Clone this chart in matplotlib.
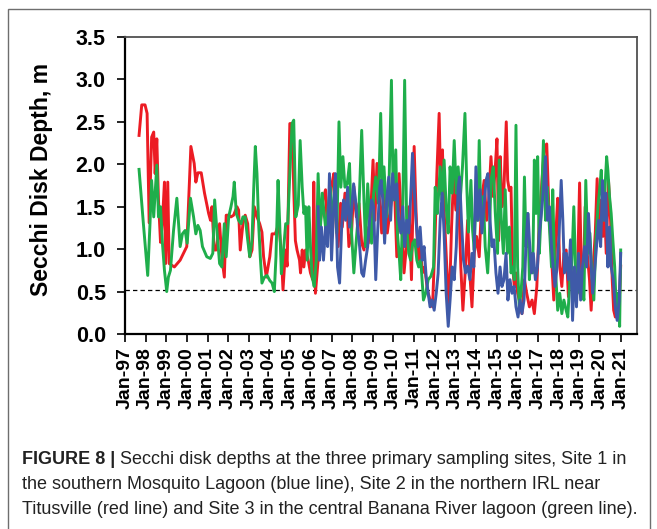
import matplotlib
matplotlib.use("Agg")
import matplotlib.pyplot as plt
from matplotlib import font_manager
from matplotlib.patches import Rectangle

# ---- data: sampling time (decimal year) and Secchi depth (m) ----
site2_t = [1997.68, 1997.81, 1997.97, 1998.07, 1998.17, 1998.29, 1998.39, 1998.46, 1998.54, 1998.62,
           1998.72, 1998.81, 1998.91, 1998.97, 1999.07, 1999.14, 1999.39, 1999.67, 1999.99, 2000.19,
           2000.35, 2000.43, 2000.53, 2000.69, 2000.85, 2001.05, 2001.14, 2001.21, 2001.32, 2001.42,
           2001.58, 2001.69, 2001.81, 2001.90, 2002.02, 2002.13, 2002.26, 2002.42, 2002.50, 2002.58,
           2002.71, 2002.82, 2002.94, 2003.04, 2003.15, 2003.26, 2003.39, 2003.52, 2003.63, 2003.71,
           2003.84, 2004.01, 2004.12, 2004.28, 2004.44, 2004.56, 2004.65, 2004.77, 2004.85, 2004.98,
           2005.09, 2005.17, 2005.25, 2005.33, 2005.45, 2005.50, 2005.58, 2005.66, 2005.74, 2005.87,
           2005.98, 2006.09, 2006.14, 2006.22, 2006.35, 2006.47, 2006.58, 2006.71, 2006.79, 2006.87,
           2007.00, 2007.11, 2007.23, 2007.32, 2007.44, 2007.52, 2007.65, 2007.76, 2007.84, 2007.97,
           2008.08, 2008.20, 2008.33, 2008.46, 2008.57, 2008.68, 2008.78, 2008.89, 2009.01, 2009.10,
           2009.20, 2009.30, 2009.43, 2009.54, 2009.70, 2009.86, 2010.03, 2010.16, 2010.27, 2010.38,
           2010.51, 2010.64, 2010.75, 2010.87, 2011.00, 2011.09, 2011.19, 2011.29, 2011.40, 2011.51,
           2011.64, 2011.77, 2011.89, 2012.00, 2012.10, 2012.21, 2012.29, 2012.37, 2012.45, 2012.58,
           2012.70, 2012.81, 2012.91, 2013.02, 2013.13, 2013.26, 2013.36, 2013.46, 2013.59, 2013.67,
           2013.80, 2013.91, 2014.02, 2014.15, 2014.28, 2014.39, 2014.51, 2014.61, 2014.72, 2014.83,
           2014.93, 2015.01, 2015.09, 2015.17, 2015.25, 2015.35, 2015.46, 2015.53, 2015.61, 2015.69,
           2015.77, 2015.85, 2015.93, 2016.01, 2016.09, 2016.22, 2016.34, 2016.45, 2016.58, 2016.71,
           2016.82, 2016.94, 2017.06, 2017.19, 2017.31, 2017.42, 2017.52, 2017.63, 2017.76, 2017.87,
           2017.95, 2018.05, 2018.15, 2018.25, 2018.36, 2018.47, 2018.57, 2018.68, 2018.80, 2018.89,
           2019.01, 2019.09, 2019.18, 2019.28, 2019.38, 2019.49, 2019.57, 2019.67, 2019.77, 2019.86,
           2019.96, 2020.06, 2020.14, 2020.22, 2020.30, 2020.41, 2020.51, 2020.59, 2020.66, 2020.74,
           2020.83, 2020.95, 2021.00]
site2_depth = [2.34, 2.70, 2.70, 2.60, 1.31, 2.32, 2.38, 1.89, 2.30, 1.58,
               1.08, 1.31, 1.79, 0.83, 1.79, 0.83, 0.79, 0.87, 1.03, 2.21,
               2.01, 1.79, 1.90, 1.90, 1.66, 1.42, 1.34, 1.50, 0.99, 0.99,
               1.30, 0.90, 0.67, 1.40, 1.40, 1.38, 1.40, 1.50, 1.46, 0.99,
               1.30, 1.40, 1.30, 0.91, 0.99, 1.50, 1.38, 1.30, 1.20, 0.91,
               0.67, 0.91, 1.18, 1.18, 1.30, 0.99, 0.52, 0.99, 0.80, 2.48,
               2.48, 1.70, 1.10, 0.99, 0.87, 0.72, 0.99, 0.79, 0.99, 0.87,
               0.72, 0.64, 1.79, 0.48, 0.87, 1.34, 1.58, 1.70, 1.26, 1.42,
               1.74, 1.89, 1.26, 1.03, 1.54, 1.26, 1.66, 1.46, 1.03, 1.19,
               1.74, 1.38, 1.54, 1.07, 0.99, 1.26, 1.07, 1.38, 2.05, 1.34,
               2.01, 1.66, 1.19, 1.81, 1.19, 1.50, 1.85, 0.91, 1.89, 1.38,
               0.72, 1.07, 1.50, 0.64, 2.21, 1.46, 0.87, 1.07, 0.72, 0.79,
               0.52, 0.40, 0.32, 1.03, 1.89, 2.60, 1.66, 2.17, 1.46, 0.79,
               0.32, 1.26, 1.85, 1.46, 1.77, 0.79, 0.28, 0.68, 1.34, 0.80,
               0.32, 0.95, 1.15, 0.91, 1.62, 1.81, 1.34, 1.58, 2.09, 1.62,
               1.97, 2.30, 1.10, 2.09, 1.50, 1.73, 2.50, 1.81, 1.69, 1.73,
               0.79, 0.56, 0.72, 0.48, 0.40, 0.24, 0.64, 0.48, 0.32, 0.40,
               0.24, 0.56, 1.34, 1.81, 2.21, 2.24, 1.50, 1.03, 0.40, 1.22,
               1.60, 0.80, 0.56, 0.95, 0.99, 0.44, 0.80, 0.56, 0.72, 0.48,
               1.78, 0.83, 0.48, 1.50, 0.95, 0.64, 0.28, 0.80, 1.19, 1.83,
               1.19, 1.58, 1.15, 1.50, 0.95, 1.81, 1.34, 0.64, 0.28, 0.20,
               0.24, 0.48, 0.80]

site3_t = [1997.68, 1997.89, 1998.10, 1998.21, 1998.29, 1998.39, 1998.54, 1998.62, 1998.72, 1998.81,
           1998.91, 1999.02, 1999.10, 1999.20, 1999.35, 1999.51, 1999.67, 1999.78, 1999.91, 2000.01,
           2000.17, 2000.32, 2000.43, 2000.53, 2000.64, 2000.75, 2000.96, 2001.13, 2001.25, 2001.34,
           2001.45, 2001.58, 2001.69, 2001.81, 2001.90, 2002.02, 2002.13, 2002.23, 2002.29, 2002.39,
           2002.50, 2002.62, 2002.71, 2002.82, 2002.94, 2003.04, 2003.15, 2003.23, 2003.31, 2003.39,
           2003.47, 2003.55, 2003.63, 2003.75, 2003.88, 2004.01, 2004.12, 2004.23, 2004.31, 2004.41,
           2004.49, 2004.57, 2004.69, 2004.78, 2004.88, 2004.98, 2005.09, 2005.17, 2005.27, 2005.39,
           2005.48, 2005.58, 2005.66, 2005.74, 2005.82, 2005.90, 2005.98, 2006.06, 2006.16, 2006.26,
           2006.35, 2006.45, 2006.55, 2006.64, 2006.74, 2006.84, 2006.94, 2007.03, 2007.16, 2007.26,
           2007.36, 2007.45, 2007.55, 2007.65, 2007.76, 2007.87, 2007.97, 2008.08, 2008.20, 2008.33,
           2008.46, 2008.57, 2008.65, 2008.75, 2008.84, 2008.94, 2009.04, 2009.14, 2009.27, 2009.38,
           2009.46, 2009.54, 2009.67, 2009.78, 2009.90, 2009.99, 2010.11, 2010.19, 2010.27, 2010.35,
           2010.45, 2010.54, 2010.64, 2010.74, 2010.83, 2010.93, 2011.03, 2011.13, 2011.22, 2011.32,
           2011.45, 2011.56, 2011.68, 2011.81, 2011.94, 2012.02, 2012.13, 2012.26, 2012.34, 2012.45,
           2012.55, 2012.65, 2012.74, 2012.84, 2012.94, 2013.04, 2013.13, 2013.23, 2013.34, 2013.46,
           2013.55, 2013.63, 2013.75, 2013.83, 2013.91, 2013.99, 2014.07, 2014.15, 2014.23, 2014.35,
           2014.44, 2014.56, 2014.64, 2014.72, 2014.83, 2014.93, 2015.04, 2015.12, 2015.22, 2015.32,
           2015.41, 2015.51, 2015.61, 2015.69, 2015.77, 2015.85, 2015.93, 2016.01, 2016.09, 2016.17,
           2016.26, 2016.34, 2016.42, 2016.50, 2016.58, 2016.66, 2016.74, 2016.82, 2016.90, 2016.98,
           2017.06, 2017.16, 2017.26, 2017.36, 2017.45, 2017.55, 2017.65, 2017.71, 2017.79, 2017.87,
           2017.95, 2018.05, 2018.15, 2018.25, 2018.36, 2018.44, 2018.54, 2018.63, 2018.73, 2018.83,
           2018.93, 2019.02, 2019.12, 2019.22, 2019.31, 2019.41, 2019.51, 2019.60, 2019.70, 2019.80,
           2019.90, 2019.99, 2020.06, 2020.14, 2020.22, 2020.32, 2020.38, 2020.46, 2020.54, 2020.62,
           2020.71, 2020.79, 2020.87, 2020.95, 2021.00]
site3_depth = [1.94, 1.30, 0.69, 1.30, 1.81, 1.38, 1.99, 1.38, 1.50, 1.08,
               0.75, 0.50, 0.67, 0.75, 1.22, 1.60, 1.03, 1.18, 1.22, 1.07,
               1.60, 1.38, 1.18, 1.28, 1.22, 1.03, 0.91, 0.89, 0.95, 1.58,
               1.22, 0.83, 0.79, 1.30, 0.91, 1.38, 1.50, 1.62, 1.79, 1.42,
               1.34, 1.30, 1.38, 1.38, 1.11, 0.91, 1.11, 1.70, 2.21, 1.89,
               1.30, 0.91, 0.60, 0.67, 0.69, 0.63, 0.60, 0.50, 0.91, 1.81,
               1.30, 0.71, 1.03, 1.30, 1.30, 1.89, 2.48, 2.52, 1.38, 1.52,
               2.28, 1.73, 1.42, 1.50, 0.87, 1.50, 1.03, 0.68, 0.56, 0.87,
               1.89, 1.19, 1.66, 1.42, 1.19, 1.50, 1.73, 1.19, 1.81, 1.19,
               2.50, 1.73, 2.09, 1.73, 1.77, 2.01, 1.19, 0.72, 1.11, 1.50,
               2.40, 1.58, 1.03, 1.77, 1.38, 1.07, 1.66, 1.85, 1.54, 2.60,
               1.66, 1.97, 1.38, 1.73, 2.99, 1.58, 2.17, 1.19, 0.95, 0.64,
               1.50, 2.99, 1.26, 0.95, 0.87, 1.07, 1.11, 0.87, 0.79, 0.87,
               0.40, 0.48, 0.64, 0.68, 0.79, 1.73, 1.42, 1.97, 1.58, 2.05,
               1.50, 1.19, 1.97, 1.66, 2.28, 1.66, 1.97, 1.58, 1.97, 2.60,
               1.73, 1.20, 1.81, 1.22, 0.99, 1.62, 1.34, 2.28, 1.34, 1.62,
               1.03, 0.72, 1.11, 1.81, 1.97, 1.42, 0.95, 2.05, 1.34, 0.95,
               1.70, 0.95, 1.26, 0.72, 0.79, 0.64, 2.46, 0.79, 0.32, 0.48,
               0.79, 1.85, 1.03, 1.42, 0.64, 0.95, 0.72, 2.05, 1.42, 2.09,
               0.95, 1.50, 2.28, 1.34, 1.73, 1.26, 0.79, 1.70, 0.87, 0.64,
               0.28, 0.48, 0.24, 0.40, 0.28, 0.20, 0.64, 0.79, 1.50, 0.64,
               0.72, 0.48, 0.56, 0.40, 1.81, 0.95, 1.19, 0.72, 0.40, 1.11,
               1.50, 1.73, 1.93, 1.34, 1.62, 2.09, 1.93, 1.62, 1.42, 1.11,
               0.79, 0.28, 0.48, 0.09, 0.99]

site1_t = [2006.35, 2006.42, 2006.51, 2006.61, 2006.71, 2006.81, 2006.90, 2007.00, 2007.10, 2007.19,
           2007.29, 2007.39, 2007.49, 2007.58, 2007.68, 2007.78, 2007.87, 2007.97, 2008.07, 2008.16,
           2008.26, 2008.36, 2008.46, 2008.55, 2008.65, 2008.75, 2008.84, 2008.94, 2009.04, 2009.14,
           2009.23, 2009.33, 2009.40, 2009.48, 2009.57, 2009.67, 2009.77, 2009.86, 2009.96, 2010.06,
           2010.16, 2010.25, 2010.35, 2010.45, 2010.54, 2010.64, 2010.74, 2010.84, 2010.92, 2011.00,
           2011.09, 2011.19, 2011.29, 2011.39, 2011.48, 2011.58, 2011.68, 2011.77, 2011.87, 2011.97,
           2012.07, 2012.16, 2012.26, 2012.36, 2012.45, 2012.55, 2012.65, 2012.74, 2012.84, 2012.94,
           2013.04, 2013.13, 2013.20, 2013.29, 2013.39, 2013.49, 2013.59, 2013.70, 2013.80, 2013.89,
           2013.99, 2014.09, 2014.19, 2014.28, 2014.38, 2014.48, 2014.57, 2014.67, 2014.77, 2014.86,
           2014.96, 2015.06, 2015.16, 2015.25, 2015.35, 2015.45, 2015.54, 2015.64, 2015.74, 2015.84,
           2015.93, 2016.03, 2016.13, 2016.22, 2016.32, 2016.42, 2016.51, 2016.58, 2016.68, 2016.77,
           2016.87, 2016.97, 2017.06, 2017.16, 2017.26, 2017.36, 2017.45, 2017.55, 2017.65, 2017.73,
           2017.82, 2017.92, 2018.02, 2018.12, 2018.20, 2018.28, 2018.37, 2018.47, 2018.57, 2018.67,
           2018.76, 2018.86, 2018.96, 2019.06, 2019.15, 2019.25, 2019.35, 2019.44, 2019.54, 2019.64,
           2019.73, 2019.83, 2019.93, 2020.03, 2020.12, 2020.22, 2020.28, 2020.38, 2020.46, 2020.54,
           2020.64, 2020.74, 2020.83, 2020.93, 2021.00]
site1_depth = [1.50, 0.87, 1.26, 0.87, 1.26, 1.03, 1.89, 0.87, 1.46, 1.89,
               0.79, 0.60, 1.26, 1.58, 1.34, 1.73, 1.26, 1.46, 1.77, 1.58,
               1.26, 1.03, 0.72, 0.68, 0.87, 1.03, 1.34, 1.58, 1.50, 0.64,
               1.19, 1.73, 1.81, 1.58, 1.07, 1.58, 1.85, 1.34, 1.89, 1.58,
               1.77, 1.34, 1.19, 1.50, 1.03, 1.34, 1.19, 1.66, 2.13, 1.73,
               1.34, 1.03, 1.26, 0.87, 1.03, 0.68, 0.48, 0.32, 0.40, 0.28,
               0.48, 0.71, 1.34, 1.66, 1.19, 0.48, 0.09, 0.40, 0.79, 0.64,
               1.03, 1.73, 1.85, 1.34, 0.87, 0.72, 0.80, 0.64, 0.95, 0.79,
               1.97, 1.34, 1.70, 1.19, 1.50, 1.81, 1.89, 1.34, 1.03, 1.11,
               0.72, 0.48, 0.79, 0.56, 0.64, 0.95, 0.40, 0.64, 0.48, 0.56,
               0.32, 0.20, 0.40, 0.24, 0.40, 1.11, 1.42, 1.11, 0.72, 0.95,
               0.64, 0.79, 1.19, 1.42, 1.70, 2.09, 1.34, 1.50, 1.03, 0.79,
               0.56, 0.79, 1.19, 1.81, 1.34, 0.72, 0.95, 0.64, 1.11, 0.16,
               0.79, 0.32, 0.95, 0.40, 0.79, 1.03, 0.79, 1.42, 0.95, 0.48,
               0.72, 1.03, 1.34, 1.03, 1.81, 1.34, 1.66, 0.79, 1.26, 0.79,
               0.64, 0.32, 0.16, 0.40, 0.95]

reference_depth = 0.52
year_ticks = list(range(1997, 2022))
tick_labels = ["Jan-%02d" % (y % 100) for y in year_ticks]
y_ticks = [0.0, 0.5, 1.0, 1.5, 2.0, 2.5, 3.0, 3.5]

caption_bold = "FIGURE 8 |"
caption_lines = [
    " Secchi disk depths at the three primary sampling sites, Site 1 in",
    "the southern Mosquito Lagoon (blue line), Site 2 in the northern IRL near",
    "Titusville (red line) and Site 3 in the central Banana River lagoon (green line).",
]

RED = "#EC1C24"
GREEN = "#1FAE4B"
BLUE = "#3F5AA8"

W, H = 657, 529
plt.rcParams["font.family"] = ["Liberation Sans", "DejaVu Sans"]
fig = plt.figure(figsize=(W / 100, H / 100), dpi=100)
fig.patch.set_facecolor("white")

# outer frame around figure + caption
fig.patches.append(Rectangle((8 / W, -0.05), 642 / W, 1 - 9 / H + 0.05, transform=fig.transFigure,
                             fill=False, edgecolor="#6e6e6e", linewidth=1.0))

ax = fig.add_axes([125 / W, 1 - 334 / H, 512 / W, 297 / H])
ax.plot(site2_t, site2_depth, color=RED, lw=2.1, solid_joinstyle="round", zorder=3)
ax.plot(site3_t, site3_depth, color=GREEN, lw=2.1, solid_joinstyle="round", zorder=3)
ax.plot(site1_t, site1_depth, color=BLUE, lw=2.1, solid_joinstyle="round", zorder=4)
ax.axhline(reference_depth, color="black", lw=0.9, ls=(0, (3.5, 2.5)), zorder=2)

ax.set_xlim(1997, 2021.79)
ax.set_ylim(0, 3.5)
ax.set_xticks(year_ticks)
ax.set_xticklabels(tick_labels, rotation=90, fontweight="bold", fontsize=14)
ax.set_yticks(y_ticks)
ax.set_yticklabels(["%.1f" % v for v in y_ticks], fontweight="bold", fontsize=15.5)
ax.tick_params(axis="x", direction="out", length=5.5, width=1.2, pad=4)
ax.tick_params(axis="y", direction="out", length=5.8, width=1.2, pad=8)
for side in ("left", "bottom"):
    ax.spines[side].set_color("black")
    ax.spines[side].set_linewidth(1.6)
for side in ("top", "right"):
    ax.spines[side].set_color("#505050")
    ax.spines[side].set_linewidth(1.3)

fig.text(42 / W, 1 - 180 / H, "Secchi Disk Depth, m", rotation=90, ha="center", va="center",
         fontsize=16.5, fontweight="bold")

# caption in a condensed face when available
try:
    font_manager.findfont("Liberation Sans Narrow", fallback_to_default=False)
    cap_family = ["Liberation Sans Narrow", "DejaVu Sans"]
except Exception:
    cap_family = ["Liberation Sans", "DejaVu Sans"]

fig.canvas.draw()
renderer = fig.canvas.get_renderer()
probe = fig.text(0, 0, caption_lines[2], fontsize=12, family=cap_family)
w12 = probe.get_window_extent(renderer).width
probe.remove()
cap_fs = 12 * 615 / w12

x0 = 22 / W
baselines = [464, 489, 514]
head = fig.text(x0, 1 - baselines[0] / H, caption_bold, fontsize=cap_fs, family=cap_family,
                fontweight="bold", va="baseline", color="#222222")
hb = head.get_window_extent(renderer)
fig.text(hb.x1 / W, 1 - baselines[0] / H, caption_lines[0], fontsize=cap_fs, family=cap_family,
         va="baseline", color="#222222")
for line, yb in zip(caption_lines[1:], baselines[1:]):
    fig.text(x0, 1 - yb / H, line, fontsize=cap_fs, family=cap_family, va="baseline", color="#222222")

fig.savefig("out.png", dpi=100)
